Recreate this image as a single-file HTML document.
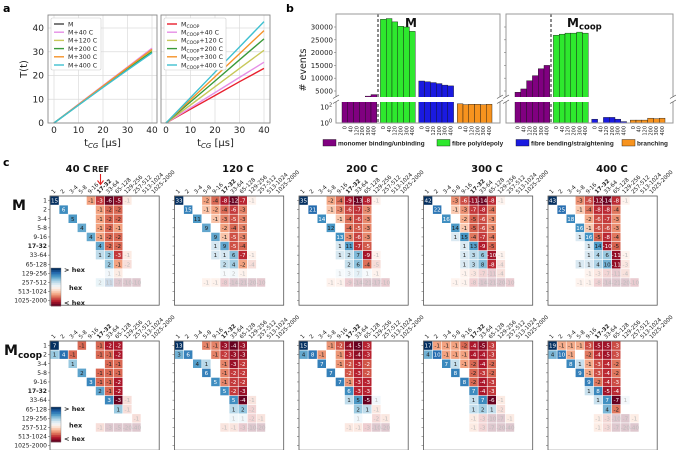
<!DOCTYPE html>
<html><head><meta charset="utf-8"><style>
html,body{margin:0;padding:0;background:#fff;}
svg{display:block;font-family:"DejaVu Sans","Liberation Sans",sans-serif;}
</style></head><body>
<svg id="fig" width="676" height="450" viewBox="0 0 676 450" xmlns="http://www.w3.org/2000/svg">
<text x="3" y="12" font-size="11" font-weight="bold">a</text>
<text x="286" y="12" font-size="11" font-weight="bold">b</text>
<text x="3" y="166" font-size="11" font-weight="bold">c</text>
</svg>
<script>
// ---------- Panel a data ----------
const aTimes=[0,10,20,30,40];
const aTicksX=[0,10,20,30,40];
const aTicksY=[0,10,20,30,40];
const aLeftNames=["M","M+40 C","M+120 C","M+200 C","M+300 C","M+400 C"];
const aLeftColors=["#444444","#e68fe6","#c8c85a","#3a9a3a","#f5932a","#3fc0d0"];
const aM=[0,7.8,15.6,23.4,31.0];
const aM40=[0,7.9,15.8,23.6,31.5];
const aM120=[0,7.7,15.4,23.0,30.5];
const aM200=[0,7.6,15.2,22.7,30.0];
const aM300=[0,7.8,15.6,23.3,31.0];
const aM400=[0,7.5,15.0,22.3,29.5];
const aRightSuffix=["","+40 C","+120 C","+200 C","+300 C","+400 C"];
const aRightColors=["#e8202e","#e68fe6","#c8c85a","#3a9a3a","#f5932a","#3fc0d0"];
const aC=[0,5.8,11.6,17.4,23.0];
const aC40=[0,6.4,12.8,19.2,25.6];
const aC120=[0,7.6,15.3,23.0,30.6];
const aC200=[0,8.9,17.7,26.6,35.4];
const aC300=[0,9.8,19.5,29.2,38.9];
const aC400=[0,10.7,21.4,32.0,42.7];

// ---------- Panel b data ----------
const bTempLabels=["0","40","120","200","300","400"];
const bUpperTicks=[5000,10000,15000,20000,25000,30000];
const bGroupColors=["#800080","#2ee82e","#1a1ae0","#f7931e"];
const bGroupNames=["monomer binding/unbinding","fibre poly/depoly","fibre bending/straightening","branching"];
const bMPurple=[1200,1500,2200,2500,3000,3600];
const bMGreen=[33000,33300,32000,30300,30000,28300];
const bMBlue=[8900,8600,8300,7900,7300,7000];
const bMOrange=[250,200,220,220,200,220];
const bCPurple=[4500,5800,9000,11000,13700,15000];
const bCGreen=[26800,27200,27600,27600,28000,27600];
const bCBlue=[3,0,5,5,3,1.5];
const bCOrange=[2.3,2.3,2.3,4,3.5,4];

// ---------- Panel c data ----------
const cLabels=["1","2","3-4","5-8","9-16","17-32","33-64","65-128","129-256","257-512","513-1024","1025-2000"];
const cTemps=["40 C","120 C","200 C","300 C","400 C"];
const hM40=[[0,0,15],[0,4,-1],[0,5,-3],[0,6,-6],[0,7,-5],[0,8,-1],[1,1,6],[1,5,-1],[1,6,-2],[1,7,-2],[2,2,5],[2,5,-1],[2,6,-2],[2,7,-2],[3,3,4],[3,5,-1],[3,6,-2],[3,7,-1],[4,4,4],[4,5,-1],[4,6,-2],[4,7,-2],[5,5,4],[5,6,-2],[5,7,-2],[6,5,1],[6,6,2],[6,7,-3],[6,8,-1],[7,6,2],[7,7,-1],[7,8,-2],[8,6,1],[8,7,-1],[9,5,2],[9,6,11],[9,7,-7],[9,8,-10],[9,9,-10]];
const hM120=[[0,0,33],[0,3,-2],[0,4,-4],[0,5,-8],[0,6,-12],[0,7,-7],[0,8,-1],[1,1,15],[1,3,-1],[1,4,-2],[1,5,-4],[1,6,-6],[1,7,-3],[2,2,11],[2,4,-1],[2,5,-3],[2,6,-5],[2,7,-3],[3,3,9],[3,5,-2],[3,6,-4],[3,7,-3],[4,4,9],[4,5,-1],[4,6,-5],[4,7,-3],[5,4,1],[5,5,9],[5,6,-5],[5,7,-4],[6,4,1],[6,5,1],[6,6,6],[6,7,-7],[6,8,-1],[7,5,2],[7,6,4],[7,7,-2],[7,8,-4],[8,5,1],[8,6,2],[8,7,-1],[9,3,-1],[9,4,-1],[9,5,-8],[9,6,-14],[9,7,-21],[9,8,-20],[9,9,-10]];
const hM200=[[0,0,35],[0,3,-2],[0,4,-4],[0,5,-9],[0,6,-13],[0,7,-8],[0,8,-1],[1,1,21],[1,3,-1],[1,4,-3],[1,5,-6],[1,6,-7],[1,7,-3],[2,2,14],[2,4,-1],[2,5,-4],[2,6,-6],[2,7,-3],[3,3,12],[3,5,-4],[3,6,-5],[3,7,-3],[4,4,13],[4,5,-3],[4,6,-6],[4,7,-3],[5,4,1],[5,5,11],[5,6,-7],[5,7,-5],[6,4,1],[6,5,2],[6,6,7],[6,7,-9],[6,8,-1],[7,5,2],[7,6,6],[7,7,-4],[7,8,-5],[8,4,1],[8,5,3],[8,6,7],[8,7,1],[8,8,-1],[9,3,-1],[9,4,-1],[9,5,-9],[9,6,-14],[9,7,-21],[9,8,-17],[9,9,-10]];
const hM300=[[0,0,42],[0,3,-3],[0,4,-6],[0,5,-11],[0,6,-14],[0,7,-8],[0,8,-1],[1,1,22],[1,3,-1],[1,4,-3],[1,5,-7],[1,6,-8],[1,7,-4],[2,2,16],[2,4,-2],[2,5,-5],[2,6,-6],[2,7,-3],[3,3,14],[3,4,-1],[3,5,-5],[3,6,-6],[3,7,-3],[4,3,1],[4,4,15],[4,5,-4],[4,6,-7],[4,7,-4],[5,4,1],[5,5,13],[5,6,-9],[5,7,-5],[6,4,1],[6,5,3],[6,6,6],[6,7,-10],[6,8,-1],[7,4,1],[7,5,3],[7,6,8],[7,7,-8],[7,8,-4],[8,4,-1],[8,5,-3],[8,6,-7],[8,7,-11],[8,8,-4],[9,3,-1],[9,4,-1],[9,5,-8],[9,6,-14],[9,7,-21],[9,8,-20],[9,9,-10]];
const hM400=[[0,0,43],[0,3,-3],[0,4,-6],[0,5,-12],[0,6,-14],[0,7,-8],[0,8,-1],[1,1,25],[1,3,-1],[1,4,-4],[1,5,-8],[1,6,-8],[1,7,-4],[2,2,18],[2,4,-2],[2,5,-6],[2,6,-7],[2,7,-3],[3,3,16],[3,4,-1],[3,5,-6],[3,6,-6],[3,7,-3],[4,3,1],[4,4,16],[4,5,-5],[4,6,-8],[4,7,-4],[5,4,1],[5,5,14],[5,6,-10],[5,7,-5],[6,4,1],[6,5,4],[6,6,6],[6,7,-11],[6,8,-1],[7,3,1],[7,4,1],[7,5,4],[7,6,10],[7,7,-11],[7,8,-3],[8,4,-1],[8,5,-3],[8,6,-7],[8,7,-11],[8,8,-4],[9,3,-1],[9,4,-1],[9,5,-8],[9,6,-14],[9,7,-21],[9,8,-20],[9,9,-10]];
const hC40=[[0,0,7],[0,3,-1],[0,5,-1],[0,6,-2],[0,7,-2],[1,0,1],[1,1,4],[1,2,-1],[1,5,-1],[1,6,-1],[1,7,-2],[2,2,1],[2,6,-1],[2,7,-1],[3,3,2],[3,5,-1],[3,6,-1],[3,7,-1],[4,4,3],[4,5,-1],[4,6,-1],[4,7,-2],[5,5,2],[5,6,-1],[5,7,-2],[6,6,3],[6,7,-3],[6,8,-1],[7,7,1],[7,8,-1],[8,9,-1],[9,5,-1],[9,6,-3],[9,7,-5],[9,8,-20],[9,9,-40]];
const hC120=[[0,0,13],[0,3,-1],[0,4,-1],[0,5,-3],[0,6,-4],[0,7,-3],[1,0,3],[1,1,6],[1,4,-1],[1,5,-2],[1,6,-3],[1,7,-3],[2,2,4],[2,3,1],[2,5,-1],[2,6,-3],[2,7,-2],[3,3,6],[3,5,-1],[3,6,-2],[3,7,-2],[4,4,5],[4,5,-1],[4,6,-2],[4,7,-2],[5,5,5],[5,6,-2],[5,7,-3],[6,6,5],[6,7,-4],[6,8,-1],[7,6,1],[7,7,2],[7,8,-2],[8,6,1],[8,7,1],[8,8,-2],[8,9,-1],[9,5,-1],[9,6,-1],[9,7,-3],[9,8,-10],[9,9,-20]];
const hC200=[[0,0,15],[0,3,-1],[0,4,-2],[0,5,-4],[0,6,-5],[0,7,-3],[1,0,4],[1,1,8],[1,2,-1],[1,4,-1],[1,5,-3],[1,6,-4],[1,7,-3],[2,2,7],[2,4,-1],[2,5,-2],[2,6,-3],[2,7,-2],[3,3,7],[3,5,-2],[3,6,-3],[3,7,-2],[4,4,7],[4,5,-1],[4,6,-3],[4,7,-3],[5,5,6],[5,6,-3],[5,7,-3],[6,5,1],[6,6,5],[6,7,-5],[6,8,1],[7,6,2],[7,7,1],[7,8,-1],[8,6,1],[8,8,-2],[8,9,-1],[9,5,-1],[9,6,-1],[9,7,-3],[9,8,-10],[9,9,-20]];
const hC300=[[0,0,17],[0,1,-1],[0,2,-1],[0,3,-1],[0,4,-2],[0,5,-4],[0,6,-5],[0,7,-3],[1,0,4],[1,1,10],[1,2,-1],[1,3,-1],[1,4,-1],[1,5,-4],[1,6,-4],[1,7,-3],[2,2,7],[2,3,1],[2,4,-1],[2,5,-2],[2,6,-4],[2,7,-2],[3,3,8],[3,5,-2],[3,6,-3],[3,7,-2],[4,4,8],[4,5,-2],[4,6,-4],[4,7,-3],[5,5,7],[5,6,-4],[5,7,-3],[6,5,1],[6,6,7],[6,7,-6],[6,8,-1],[7,5,1],[7,6,2],[7,7,1],[7,8,-2],[8,5,-1],[8,6,-3],[8,7,-10],[8,8,-7],[8,9,-1],[9,5,-1],[9,6,-3],[9,7,-7],[9,8,-20],[9,9,-40]];
const hC400=[[0,0,19],[0,1,-1],[0,2,-1],[0,3,-1],[0,4,-3],[0,5,-5],[0,6,-5],[0,7,-3],[1,0,4],[1,1,10],[1,2,-1],[1,4,-2],[1,5,-4],[1,6,-5],[1,7,-3],[2,2,8],[2,3,1],[2,4,-1],[2,5,-3],[2,6,-4],[2,7,-2],[3,3,9],[3,4,-1],[3,5,-3],[3,6,-4],[3,7,-2],[4,4,9],[4,5,-2],[4,6,-4],[4,7,-3],[5,4,1],[5,5,8],[5,6,-5],[5,7,-4],[6,5,1],[6,6,7],[6,7,-7],[6,8,1],[7,6,4],[7,7,-2],[8,5,-1],[8,6,-3],[8,7,-10],[8,8,-7],[8,9,-1],[9,5,-1],[9,6,-3],[9,7,-7],[9,8,-20],[9,9,-40]];

const NS="http://www.w3.org/2000/svg";
const svg=document.getElementById('fig');
function mk(tag,attrs,parent){const e=document.createElementNS(NS,tag);for(const k in attrs)e.setAttribute(k,attrs[k]);(parent||svg).appendChild(e);return e;}
function txt(x,y,s,attrs){const e=mk('text',Object.assign({x:x,y:y},attrs||{}));e.textContent=s;return e;}

// ================= Panel a =================
const aPanels=[{left:48,x0:54,series:[aM,aM40,aM120,aM200,aM300,aM400],colors:aLeftColors,name:'left'},
               {left:161,x0:166,series:[aC,aC40,aC120,aC200,aC300,aC400],colors:aRightColors,name:'right'}];
const aTop=15,aBottom=123,aW=109;
function aY(v){return 123-v*95/40;}
aPanels.forEach((p,pi)=>{
  function ax(t){return p.x0+t*98/40;}
  const g=mk('g',{});
  
  
  aTicksX.forEach(t=>{
    const l=mk('line',{x1:ax(t),x2:ax(t),y1:aTop,y2:aBottom,stroke:'#dcdcdc','stroke-width':0.7},g);
    
    
    const tk=txt(ax(t),133,String(t),{'font-size':9,'text-anchor':'middle',fill:'#222'});
    
    
  });
  aTicksY.forEach(v=>{
    const l=mk('line',{x1:p.left,x2:p.left+aW,y1:aY(v),y2:aY(v),stroke:'#dcdcdc','stroke-width':0.7},g);
    
    
    if(pi===0){
      const tk=txt(44,aY(v)+3,String(v),{'font-size':9,'text-anchor':'end',fill:'#222'});
      
      
    }
  });
  p.series.forEach((s,si)=>{
    const d=s.map((v,i)=>(i?'L':'M')+ax(aTimes[i]).toFixed(1)+','+aY(v).toFixed(1)).join(' ');
    const pl=mk('path',{d:d,stroke:p.colors[si],'stroke-width':1.4,fill:'none'},g);
    
    
  });
  const box=mk('rect',{x:p.left,y:aTop,width:aW,height:aBottom-aTop,fill:'none',stroke:'#888','stroke-width':0.9},g);
  
  
  const lg=mk('g',{},g);
  
  
  mk('rect',{x:p.left+3,y:18,width:pi?62:50,height:52,fill:'#fff',stroke:'#ccc','stroke-width':0.6,rx:1.5},lg);
  for(let i=0;i<6;i++){
    const y=24+i*8.2;
    const ln=mk('line',{x1:p.left+6,x2:p.left+16,y1:y,y2:y,stroke:p.colors[i],'stroke-width':1.4},lg);
    
    
    let t;
    if(pi===0){t=txt(p.left+20,y+2.3,aLeftNames[i],{'font-size':6.3,fill:'#222'});}
    else{t=txt(p.left+20,y+2.3,'M',{'font-size':6.3,fill:'#222'});
      const s1=document.createElementNS(NS,'tspan');s1.setAttribute('font-size',4.5);s1.setAttribute('dy',1.5);s1.textContent='COOP';t.appendChild(s1);
      const s2=document.createElementNS(NS,'tspan');s2.setAttribute('dy',-1.5);s2.textContent=aRightSuffix[i];t.appendChild(s2);}
    
    
  }
  const xl=txt(p.left+aW/2,146,'t',{'font-size':10,'text-anchor':'middle',fill:'#222'});
  const sb=document.createElementNS(NS,'tspan');sb.setAttribute('font-size',7);sb.setAttribute('font-style','italic');sb.setAttribute('dy',2);sb.textContent='CG';xl.appendChild(sb);
  const sr=document.createElementNS(NS,'tspan');sr.setAttribute('dy',-2);sr.textContent=' [μs]';xl.appendChild(sr);
  
  
});
const aYl=txt(0,0,'T(t)',{'font-size':10,'text-anchor':'middle',fill:'#222',transform:'translate(27,69) rotate(-90)'});



// ================= Panel b =================
const bTop=14,bBreakTop=97,bBreakBot=102,bBottom=123;
function bUp(v){return 91-(v-5000)*64/25000;}
function bLo(v){return 123-Math.log10(Math.max(v,1))*8;}
const bPanels=[{left:336,right:500,off:6,dash:378,groups:[bMPurple,bMGreen,bMBlue,bMOrange],name:'M'},
               {left:506,right:673,off:9,dash:551,groups:[bCPurple,bCGreen,bCBlue,bCOrange],name:'Mcoop'}];
const bw=5.8,gSpace=38.4;
bPanels.forEach((p,pi)=>{
  const g=mk('g',{});
  
  
  p.groups.forEach((vals,gi)=>{
    vals.forEach((v,i)=>{
      const x=p.left+p.off+gi*gSpace+i*bw;
      if(v<=0) return;
      const yTop=v>400?Math.min(bUp(v),bBreakBot):bLo(v);
      const r=mk('rect',{x:x,y:yTop,width:bw,height:bBottom-yTop,fill:bGroupColors[gi],stroke:'#111','stroke-width':0.4},g);
      
      
    });
    bTempLabels.forEach((lab,i)=>{
      const x=p.left+p.off+gi*gSpace+i*bw+bw/2+1.8;
      const t=txt(x,126,lab,{'font-size':5,'text-anchor':'end',fill:'#222',transform:'rotate(-90 '+x+' 126)'});
      
      
    });
  });
  const dl=mk('line',{x1:p.dash,x2:p.dash,y1:bTop,y2:bBottom,stroke:'#000','stroke-width':0.9,'stroke-dasharray':'3,2'},g);
  
  
  const fr=mk('rect',{x:p.left,y:bTop,width:p.right-p.left,height:bBottom-bTop,fill:'none',stroke:'#999','stroke-width':1},g);
  
  
  const gap=mk('rect',{x:p.left-1,y:bBreakTop,width:p.right-p.left+2,height:bBreakBot-bBreakTop,fill:'#fff'},g);
  
  
  [p.left,p.right].forEach(xx=>{
    mk('line',{x1:xx-3,y1:bBreakTop+1.5,x2:xx+3,y2:bBreakTop-2,stroke:'#555','stroke-width':0.7},g);
    mk('line',{x1:xx-3,y1:bBreakBot+1.5,x2:xx+3,y2:bBreakBot-2,stroke:'#555','stroke-width':0.7},g);
  });
  bUpperTicks.forEach(v=>{
    mk('line',{x1:p.left-2,x2:p.left,y1:bUp(v),y2:bUp(v),stroke:'#777','stroke-width':0.6},g);
    if(pi===0){const t=txt(p.left-3,bUp(v)+2.5,String(v),{'font-size':7,'text-anchor':'end',fill:'#222'});
      
      }
  });
  if(pi===0){
    [[2,'2'],[0,'0']].forEach(e=>{
      const y=bLo(Math.pow(10,e[0]));
      const t=txt(p.left-7,y+2.5,'10',{'font-size':7,'text-anchor':'end',fill:'#222'});
      
      
      const s=txt(p.left-7,y-0.5,e[1],{'font-size':5,fill:'#222'});
      
      
    });
  }
  const ttl=txt(pi?567:405,27,'M',{'font-size':12,'font-weight':'bold',fill:'#111'});
  if(pi){const s=document.createElementNS(NS,'tspan');s.setAttribute('font-size',8.5);s.setAttribute('dy',2.5);s.textContent='coop';ttl.appendChild(s);}
  
  
});
const bYl=txt(0,0,'# events',{'font-size':9.5,'text-anchor':'middle',fill:'#222',transform:'translate(306,70) rotate(-90)'});


const legX=[323,437,516,622];
bGroupNames.forEach((n,i)=>{
  const r=mk('rect',{x:legX[i],y:139.5,width:13,height:6.5,fill:bGroupColors[i],stroke:'#111','stroke-width':0.4});
  
  
  const t=txt(legX[i]+15,145.5,n,{'font-size':6.4,'font-weight':'bold',fill:'#222','font-family':'Liberation Sans, sans-serif'});
  
  
});

// ================= Panel c =================
const blues=[[247,247,247],[209,229,240],[146,197,222],[67,147,195],[33,102,172],[5,48,97]];
const reds=[[247,247,247],[253,219,199],[244,165,130],[214,96,77],[178,24,43],[103,0,31]];
function ramp(st,t){t=Math.max(0,Math.min(1,t));const f=t*(st.length-1);const i=Math.min(Math.floor(f),st.length-2);const u=f-i;
  const c=st[i].map((a,k)=>Math.round(a+(st[i+1][k]-a)*u));return 'rgb('+c.join(',')+')';}
const cLefts=[50,174.5,299,423.5,548];
const cTops=[196,341];
const cell=9.1;
const cSets=[[hM40,hM120,hM200,hM300,hM400],[hC40,hC120,hC200,hC300,hC400]];
const titleCx=[78,238,362,487,612];
cSets.forEach((row,ri)=>{
  const top=cTops[ri];
  row.forEach((data,hi)=>{
    const left=cLefts[hi];
    const g=mk('g',{});
    
    
    const strong=data.filter(d=>d[0]<8&&d[1]<8);
    const maxP=Math.max(...strong.map(d=>d[2]));
    const maxN=Math.max(...strong.map(d=>-d[2]));
    data.forEach(d=>{
      const [r,c,v]=d;
      const faint=(r>=8||c>=8);
      const t=Math.sqrt(Math.abs(v)/(v>0?maxP:maxN));
      const col=v>0?ramp(blues,t):ramp(reds,t);
      const x=left+c*cell,y=top+r*cell;
      const rc=mk('rect',{x:x+0.3,y:y+0.3,width:cell-0.6,height:cell-0.6,fill:col,opacity:faint?0.22:1},g);
      
      
      const tc=txt(x+cell/2,y+cell/2+2,String(v),{'font-size':5.6,'text-anchor':'middle',fill:faint?'#bbb':(t>0.6?'#fff':'#222')});
      
      
    });
    const fr=mk('rect',{x:left,y:top,width:cell*12,height:cell*12,fill:'none',stroke:'#555','stroke-width':0.8},g);
    
    
    cLabels.forEach((lab,i)=>{
      const cy=top+i*cell+cell/2;
      mk('line',{x1:left-2,x2:left,y1:cy,y2:cy,stroke:'#555','stroke-width':0.5},g);
      if(hi===0){
        const t=txt(left-3,cy+2,lab,{'font-size':6,'text-anchor':'end',fill:'#222','font-weight':i===5?'bold':'normal'});
        
        
      }
      const cx=left+i*cell+cell/2;
      const ct=txt(cx-1,top-2,lab,{'font-size':5.6,fill:'#222','font-weight':i===5?'bold':'normal',transform:'rotate(-45 '+(cx-1)+' '+(top-2)+')'});
      
      
    });
    if(ri===0){
      const tt=txt(titleCx[hi],172,cTemps[hi],{'font-size':10,'font-weight':'bold','text-anchor':'middle',fill:'#111'});
      
      
    }
  });
  const cbTop=ri?407:268, cbH=ri?35:38;
  const cb=mk('g',{});
  
  
  const n=20;
  for(let k=0;k<n;k++){
    const u=k/(n-1);
    const col=u<0.5?ramp(blues,1-u*2):ramp(reds,(u-0.5)*2);
    mk('rect',{x:51,y:cbTop+k*cbH/n,width:10,height:cbH/n+0.3,fill:col},cb);
  }
  mk('rect',{x:51,y:cbTop,width:10,height:cbH,fill:'none',stroke:'#777','stroke-width':0.4},cb);
  [['> hex',cbTop+4,64],['hex',cbTop+cbH/2+3,69],['< hex',cbTop+cbH-1,64]].forEach(e=>{
    const t=txt(e[2],e[1],e[0],{'font-size':6.5,'font-weight':'bold',fill:'#222'});
    
    
  });
});
const mBig=txt(12,210,'M',{'font-size':14,'font-weight':'bold',fill:'#111'});


const mcBig=txt(4,355,'M',{'font-size':14,'font-weight':'bold',fill:'#111'});
const mcs=document.createElementNS(NS,'tspan');mcs.setAttribute('font-size',9);mcs.setAttribute('dy',3);mcs.textContent='coop';mcBig.appendChild(mcs);


const refT=txt(100.5,172,'REF',{'font-size':8,'font-weight':'bold','text-anchor':'middle',fill:'#222'});


const refA=mk('path',{d:'M100.5,174 L100.5,184 M97.5,180.5 L100.5,184.5 L103.5,180.5',stroke:'#e02020','stroke-width':1.1,fill:'none'});


</script>
</body></html>
